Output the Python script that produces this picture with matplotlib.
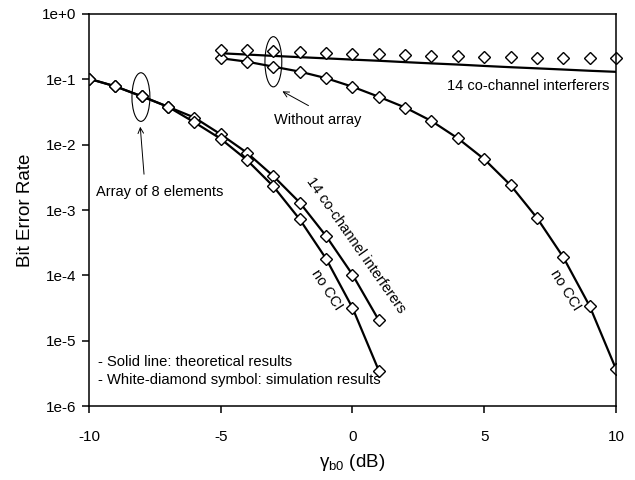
"""BER vs gamma_b0 with/without antenna array, recreated."""
import matplotlib
matplotlib.use("Agg")
import matplotlib.pyplot as plt
from matplotlib.patches import Ellipse
from matplotlib.ticker import FixedLocator, FixedFormatter

plt.rcParams["font.family"] = ["Liberation Sans", "DejaVu Sans"]

# ---- data ----
x_arr = [-10, -9, -8, -7, -6, -5, -4, -3, -2, -1, 0, 1]
ber_arr_cci = [0.102, 0.078, 0.055, 0.038, 0.026, 0.0144, 0.0075, 0.0033,
               0.0013, 4.0e-4, 1.03e-4, 2.06e-5]
ber_arr_nocci = [0.102, 0.078, 0.055, 0.038, 0.022, 0.0123, 0.0058, 0.0023,
                 7.2e-4, 1.8e-4, 3.2e-5, 3.5e-6]

x_noarr = [-5, -4, -3, -2, -1, 0, 1, 2, 3, 4, 5, 6, 7, 8, 9, 10]
ber_noarr_nocci = [0.21, 0.186, 0.156, 0.131, 0.104, 0.077, 0.054, 0.037,
                   0.023, 0.0125, 0.006, 0.0024, 7.6e-4, 1.9e-4, 3.4e-5, 3.7e-6]
ber_noarr_cci_theory = [0.250, 0.239, 0.228, 0.218, 0.209, 0.200, 0.192, 0.183,
                        0.175, 0.168, 0.160, 0.153, 0.147, 0.141, 0.135, 0.130]
ber_noarr_cci_sim = [0.281, 0.277, 0.268, 0.262, 0.255, 0.247, 0.240, 0.235,
                     0.230, 0.226, 0.222, 0.218, 0.215, 0.213, 0.211, 0.210]

yticks = [1e0, 1e-1, 1e-2, 1e-3, 1e-4, 1e-5, 1e-6]
ytick_labels = ["1e+0", "1e-1", "1e-2", "1e-3", "1e-4", "1e-5", "1e-6"]
xticks = [-10, -5, 0, 5, 10]

# ---- figure ----
fig = plt.figure(figsize=(6.35, 4.8), dpi=100)
ax = fig.add_axes([0.140, 0.154, 0.830, 0.817])

mk = dict(marker="D", markersize=5.8, markerfacecolor="white",
          markeredgecolor="black", markeredgewidth=1.0)

ax.plot(x_arr, ber_arr_cci, color="black", lw=1.6, **mk)
ax.plot(x_arr, ber_arr_nocci, color="black", lw=1.6, **mk)
ax.plot(x_noarr, ber_noarr_nocci, color="black", lw=1.6, **mk)
ax.plot(x_noarr, ber_noarr_cci_theory, color="black", lw=1.6)
ax.plot(x_noarr, ber_noarr_cci_sim, ls="none", clip_on=False, **mk)

ax.set_yscale("log")
ax.set_xlim(-10, 10)
ax.set_ylim(1e-6, 1e0)
ax.yaxis.set_major_locator(FixedLocator(yticks))
ax.yaxis.set_major_formatter(FixedFormatter(ytick_labels))
ax.yaxis.set_minor_locator(FixedLocator([]))
ax.set_xticks(xticks)
ax.set_xticklabels([str(v) for v in xticks])
ax.tick_params(direction="out", length=5, width=1.1, labelsize=11)
ax.tick_params(axis="x", pad=12)
ax.tick_params(axis="y", pad=4)
for s in ax.spines.values():
    s.set_linewidth(1.1)

ax.set_ylabel("Bit Error Rate", fontsize=13.5, labelpad=6)
ax.set_xlabel("γ$_{\\mathregular{b0}}$ (dB)", fontsize=13.5, labelpad=6)

# ---- annotations ----
ax.add_patch(Ellipse((0.0987, 0.788), 0.034, 0.124, transform=ax.transAxes,
                     fill=False, edgecolor="black", lw=0.8))
ax.add_patch(Ellipse((0.350, 0.878), 0.032, 0.128, transform=ax.transAxes,
                     fill=False, edgecolor="black", lw=0.8))

ax.annotate("", xy=(-8.06, 0.0207), xytext=(-7.9, 3.2e-3),
            arrowprops=dict(arrowstyle="->", lw=0.7, color="black"))
ax.text(-7.3, 1.88e-3, "Array of 8 elements", ha="center", va="center",
        fontsize=10.5)

ax.annotate("", xy=(-2.75, 0.0686), xytext=(-1.575, 0.0377),
            arrowprops=dict(arrowstyle="->", lw=0.7, color="black"))
ax.text(-1.31, 0.0238, "Without array", ha="center", va="center",
        fontsize=10.5)

ax.text(6.66, 0.079, "14 co-channel interferers", ha="center", va="center",
        fontsize=10.5)

ax.text(0.13, 2.9e-4, "14 co-channel interferers", ha="center",
        va="center", fontsize=10.5, rotation=-55, rotation_mode="anchor")
ax.text(-0.97, 5.9e-5, "no CCI", ha="center", va="center", fontsize=10.5,
        rotation=-57, rotation_mode="anchor")
ax.text(8.1, 5.9e-5, "no CCI", ha="center", va="center", fontsize=10.5,
        rotation=-58, rotation_mode="anchor")

ax.text(0.017, 0.112, "- Solid line: theoretical results",
        transform=ax.transAxes, ha="left", va="center", fontsize=10.6)
ax.text(0.017, 0.066, "- White-diamond symbol: simulation results",
        transform=ax.transAxes, ha="left", va="center", fontsize=10.6)

fig.savefig("out.png", dpi=100, facecolor="white")
